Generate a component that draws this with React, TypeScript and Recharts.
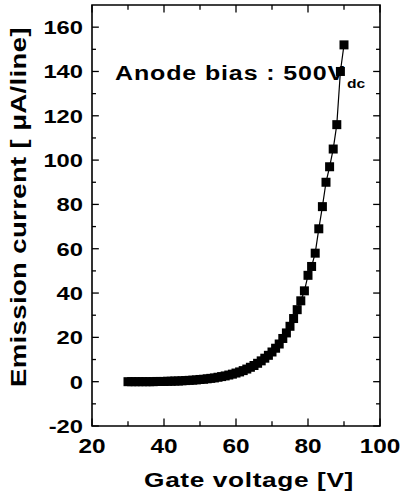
import React from 'react';
import { ComposedChart, Line, XAxis, YAxis, ReferenceLine, ReferenceArea, Customized } from 'recharts';

// gate voltage [V] and emission current [uA/line]
const gateVoltage = [
  30, 31, 32, 33, 34, 35, 36, 37, 38, 39, 40, 41, 42, 43, 44, 45, 46, 47, 48, 49,
  50, 51, 52, 53, 54, 55, 56, 57, 58, 59, 60, 61, 62, 63, 64, 65, 66, 67, 68, 69,
  70, 71, 72, 73, 74, 75, 76, 77, 78, 79, 80, 81, 82, 83, 84, 85, 86, 87, 88, 89, 90,
];
const emissionCurrent = [
  0, 0, 0, 0, 0, 0, 0, 0, 0.1, 0.1, 0.1, 0.2, 0.2, 0.3, 0.3, 0.4, 0.5, 0.6, 0.7, 0.8,
  1.0, 1.1, 1.3, 1.5, 1.7, 2.0, 2.3, 2.6, 3.0, 3.4, 3.9, 4.4, 5.0, 5.7, 6.5, 7.3, 8.3, 9.4, 10.6, 11.9,
  13.4, 15.1, 17.0, 19.5, 22, 25, 28.5, 32.5, 36.5, 41, 48, 52, 58, 69, 79, 90, 97, 105, 116, 140, 152,
];

const xTicks = [20, 40, 60, 80, 100];
const xMinorTicks = [30, 50, 70, 90];
const yTicks = [-20, 0, 20, 40, 60, 80, 100, 120, 140, 160];
const yMinorTicks = [-10, 10, 30, 50, 70, 90, 110, 130, 150];

const data = gateVoltage.map((v, i) => ({ v, cur: emissionCurrent[i] }));

const X_MIN = 20;
const X_MAX = 100;
const Y_MIN = -20;
const Y_MAX = 170;

const FONT = "'Liberation Sans', Arial, Helvetica, sans-serif";
const WIDE = 'scale(1.25,1)'; // the scan's lettering is a wide bold grotesque

// tick lengths in data units (inward ticks on all four sides)
const xMajorLen = 3.4;
const xMinorLen = 2.2;
const yMajorLen = 1.9;
const yMinorLen = 1.1;

type Seg = [{ x: number; y: number }, { x: number; y: number }];
const segs: Seg[] = [];
xTicks.concat(xMinorTicks).forEach((x) => {
  const len = xTicks.includes(x) ? xMajorLen : xMinorLen;
  segs.push([{ x, y: Y_MIN }, { x, y: Y_MIN + len }]);
  segs.push([{ x, y: Y_MAX }, { x, y: Y_MAX - len }]);
});
yTicks.concat(yMinorTicks).forEach((y) => {
  const len = yTicks.includes(y) ? yMajorLen : yMinorLen;
  segs.push([{ x: X_MIN, y }, { x: X_MIN + len, y }]);
  segs.push([{ x: X_MAX, y }, { x: X_MAX - len, y }]);
});

const SquareDot = (props: any) => {
  const { cx, cy, index } = props;
  if (cx == null || cy == null) return null;
  return <rect key={`d${index}`} x={cx - 4.5} y={cy - 4.5} width={9} height={9} fill="#000" />;
};

const XTick = (props: any) => {
  const { x, y, payload } = props;
  return (
    <g transform={`translate(${x},${y})`}>
      <text transform={WIDE} textAnchor="middle" dy="0.72em" fontFamily={FONT} fontSize={19.5} fontWeight={700} fill="#000">
        {payload.value}
      </text>
    </g>
  );
};

const YTick = (props: any) => {
  const { x, y, payload } = props;
  return (
    <g transform={`translate(${x},${y})`}>
      <text transform={WIDE} textAnchor="end" dy="0.36em" fontFamily={FONT} fontSize={19} fontWeight={700} fill="#000">
        {payload.value}
      </text>
    </g>
  );
};

const Texts = () => (
  <g fontFamily={FONT} fontWeight={700} fill="#000">
    <text transform={`translate(115,80) ${WIDE}`} fontSize={20} letterSpacing={0.7}>Anode bias : 500V</text>
    <text transform={`translate(347,88) ${WIDE}`} fontSize={12.5}>dc</text>
    <text transform={`translate(249,487) ${WIDE}`} fontSize={21} letterSpacing={0.5} textAnchor="middle">
      Gate voltage [V]
    </text>
    <text transform={`translate(26,207) rotate(-90) ${WIDE}`} fontSize={22} letterSpacing={0.3} textAnchor="middle">
      Emission current [ μA/line]
    </text>
  </g>
);

export default function App() {
  return (
    <div style={{ position: 'absolute', left: 0, top: 0, width: 401, height: 493, background: '#fff' }}>
      <ComposedChart
        width={401}
        height={493}
        data={data}
        margin={{ top: 5, right: 21, bottom: 37, left: 32 }}
      >
        <XAxis
          type="number"
          dataKey="v"
          domain={[X_MIN, X_MAX]}
          ticks={xTicks}
          allowDataOverflow
          height={30}
          axisLine={false}
          tickLine={false}
          tickSize={0}
          tickMargin={13}
          tick={XTick}
        />
        <YAxis
          type="number"
          domain={[Y_MIN, Y_MAX]}
          ticks={yTicks}
          allowDataOverflow
          width={60}
          axisLine={false}
          tickLine={false}
          tickSize={0}
          tickMargin={9}
          tick={YTick}
        />
        <ReferenceArea
          x1={X_MIN}
          x2={X_MAX}
          y1={Y_MIN}
          y2={Y_MAX}
          fill="none"
          fillOpacity={0}
          stroke="#000"
          strokeWidth={1.6}
        />
        {segs.map((s, i) => (
          <ReferenceLine key={`t${i}`} segment={s} stroke="#000" strokeWidth={1.3} />
        ))}
        <Line
          type="linear"
          dataKey="cur"
          stroke="#000"
          strokeWidth={1.2}
          dot={SquareDot}
          activeDot={false}
          isAnimationActive={false}
        />
        <Customized component={Texts} />
      </ComposedChart>
    </div>
  );
}
